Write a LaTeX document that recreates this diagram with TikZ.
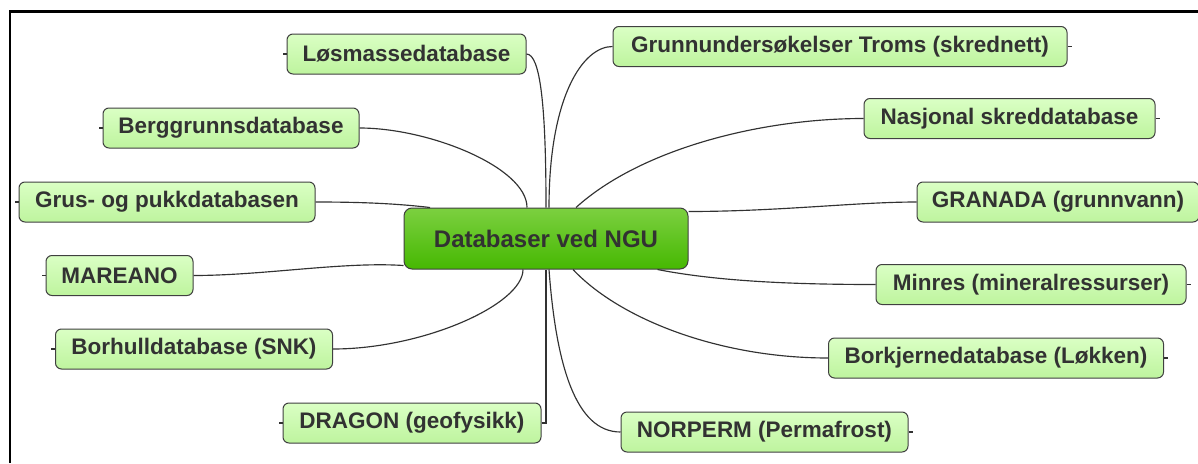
\documentclass[tikz,border=0pt]{standalone}
\usepackage{fontspec}
\setmainfont{Liberation Sans}
\definecolor{leaftop}{RGB}{218,255,196}
\definecolor{leafbot}{RGB}{190,244,158}
\definecolor{hubtop}{RGB}{124,208,64}
\definecolor{hubbot}{RGB}{70,184,2}
\definecolor{ink}{RGB}{50,50,50}
\definecolor{rim}{RGB}{64,64,64}
\begin{document}
\begin{tikzpicture}[x=1pt,y=-1pt,
  leaf/.style={draw=rim,line width=1pt,rounded corners=6pt,
    top color=leaftop,bottom color=leafbot,minimum height=40pt,inner sep=0pt,
    text=ink,font=\fontsize{22.5}{26}\selectfont\bfseries},
  hubbox/.style={draw=rim,line width=1pt,rounded corners=8pt,
    top color=hubtop,bottom color=hubbot,minimum width=284pt,minimum height=61pt,
    inner sep=0pt,text=ink,font=\fontsize{24}{28}\selectfont\bfseries},
  link/.style={draw=ink,line width=1.15pt}]
\useasboundingbox (0,0) rectangle (1198,463);
\fill[white] (0,0) rectangle (1198,463);
\draw[line width=2.2pt] (10,463) -- (10,11.5) -- (1198,11.5);
% centre
\node[hubbox] (hub) at (546,238.5) {Databaser ved NGU};
% left side
\node[leaf,minimum width=239pt] (los) at (406.5,54) {Løsmassedatabase};
\node[leaf,minimum width=256pt] (berg) at (231,128) {Berggrunnsdatabase};
\node[leaf,minimum width=296pt] (grus) at (167,202) {Grus- og pukkdatabasen};
\node[leaf,minimum width=147pt] (mar) at (119.5,275.5) {MAREANO};
\node[leaf,minimum width=277pt] (bor) at (194,349) {Borhulldatabase (SNK)};
\node[leaf,minimum width=258pt] (dra) at (412,423) {DRAGON (geofysikk)};
% right side
\node[leaf,minimum width=454pt] (grt) at (840,46.5) {Grunnundersøkelser Troms (skrednett)};
\node[leaf,minimum width=291pt] (nas) at (1009.5,118.5) {Nasjonal skreddatabase};
\node[leaf,minimum width=282pt] (gra) at (1058,202) {GRANADA (grunnvann)};
\node[leaf,minimum width=310pt] (min) at (1031,284.5) {Minres (mineralressurser)};
\node[leaf,minimum width=335pt] (bkj) at (996,358) {Borkjernedatabase (Løkken)};
\node[leaf,minimum width=287pt] (nor) at (764.5,432) {NORPERM (Permafrost)};
% stubs
\foreach \n in {los,berg,grus,mar,bor,dra}
  \draw[link] (\n.west) -- ++(-4,0);
\foreach \n in {grt,nas,gra,min,bkj,nor}
  \draw[link] (\n.east) -- ++(4,0);
% connectors
\draw[link] (los.east) .. controls ([xshift=14]los.east) and ([yshift=100]hub.north) .. (hub.north);
\draw[link] (berg.east) .. controls ([xshift=70]berg.east) and ([xshift=-19,yshift=40]hub.north) .. ([xshift=-19]hub.north);
\draw[link] (grus.east) .. controls ([xshift=45]grus.east) and ([xshift=-150,yshift=4]hub.north) .. ([xshift=-116]hub.north);
\draw[link] (mar.east) .. controls ([xshift=70]mar.east) and ([xshift=-60,yshift=8]hub.south west) .. ([yshift=4]hub.south west);
\draw[link] (bor.east) .. controls ([xshift=90]bor.east) and ([xshift=-23,yshift=-35]hub.south) .. ([xshift=-23]hub.south);
\draw[link] (dra.east) -| (hub.south);
\draw[link] (grt.west) .. controls ([xshift=-30]grt.west) and ([xshift=3,yshift=110]hub.north) .. ([xshift=3]hub.north);
\draw[link] (nas.west) .. controls ([xshift=-104]nas.west) and ([xshift=94,yshift=58]hub.north) .. ([xshift=30]hub.north);
\draw[link] (gra.west) .. controls ([xshift=-60]gra.west) and ([xshift=90,yshift=-4]hub.north east) .. ([yshift=-4]hub.north east);
\draw[link] (min.west) .. controls ([xshift=-80]min.west) and ([xshift=30,yshift=-12]hub.south east) .. ([xshift=-31]hub.south east);
\draw[link] (bkj.west) .. controls ([xshift=-108]bkj.west) and ([xshift=74,yshift=-50]hub.south) .. ([xshift=27]hub.south);
\draw[link] (nor.west) .. controls ([xshift=-45]nor.west) and ([xshift=10,yshift=-95]hub.south) .. ([xshift=3]hub.south);
\end{tikzpicture}
\end{document}
